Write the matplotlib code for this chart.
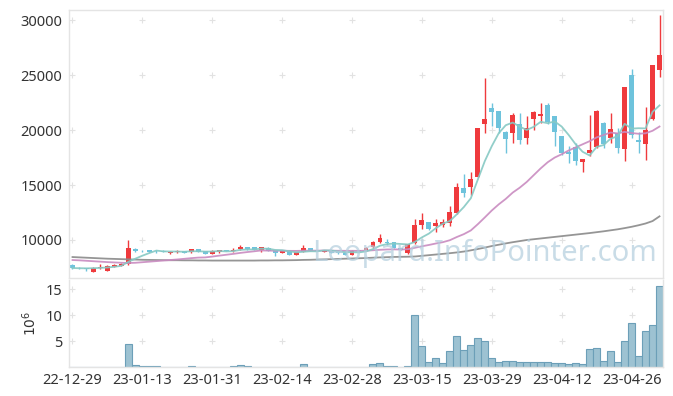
import numpy as np
import pandas as pd
import matplotlib
matplotlib.use("Agg")
import matplotlib.pyplot as plt

# OHLC values (one row per trading day)
opens = [7730, 7450, 7430, 7120, 7430, 7210, 7550, 7670, 7800, 9200,
         9020, 9090, 8990, 8960, 8800, 8930, 9000, 8880, 9180, 9000,
         8750, 8950, 9060, 9020, 9150, 9360, 9330, 9090, 9300, 9090,
         8850, 9030, 8640, 8940, 9270, 9050, 8910, 9090, 8990, 8850,
         8680, 9030, 9000, 9330, 9820, 9790, 9790, 9240, 8850, 9700,
         11360, 11610, 11300, 11360, 11520, 12480, 14760, 14850, 15760, 20520,
         22030, 21730, 19850, 19700, 20550, 19300, 21030, 21270, 22270, 21270,
         19450, 18030, 18480, 17120, 17880, 18480, 20610, 19240, 19750, 18300,
         24970, 19090, 18760, 21000, 25450]
highs = [7780, 7500, 7470, 7550, 7800, 7700, 7780, 7880, 10000, 9250,
         9100, 9100, 9100, 9050, 8960, 9050, 9030, 9200, 9200, 9020,
         9050, 9100, 9100, 9250, 9520, 9400, 9350, 9380, 9320, 9100,
         9080, 9050, 8900, 9520, 9300, 9100, 9120, 9110, 9020, 8870,
         9050, 9080, 9320, 9900, 10570, 10050, 9810, 9260, 9660, 11880,
         12430, 11650, 11880, 11900, 13090, 15210, 15970, 16210, 20200, 24700,
         22440, 21750, 19900, 21570, 21520, 21270, 21700, 22430, 22430, 21300,
         19500, 18540, 18790, 17400, 21330, 21800, 20700, 21520, 20150, 23880,
         25520, 19850, 22120, 25950, 30450]
lows = [7400, 7350, 7150, 7100, 7400, 7200, 7520, 7650, 7750, 8900,
        8900, 8930, 8850, 8880, 8700, 8850, 8830, 8860, 8930, 8750,
        8720, 8850, 8980, 8950, 9120, 9100, 9100, 8950, 9000, 8580,
        8820, 8620, 8600, 8900, 8960, 8980, 8880, 8830, 8770, 8650,
        8650, 8950, 8980, 9280, 9700, 9530, 9250, 9080, 8700, 9680,
        11000, 10900, 10760, 11150, 11300, 12400, 13940, 14090, 15700, 19750,
        20360, 19750, 17880, 18850, 18730, 18700, 20000, 20660, 20540, 18540,
        17730, 17030, 16820, 16210, 17640, 18400, 18340, 18850, 17940, 17210,
        19240, 17940, 17270, 20910, 24850]
closes = [7450, 7420, 7400, 7480, 7570, 7640, 7730, 7850, 9300, 9000,
          8980, 8950, 8960, 8940, 8940, 8960, 8860, 9180, 8950, 8770,
          9000, 9090, 9000, 9060, 9360, 9180, 9120, 9360, 9030, 8790,
          9060, 8640, 8880, 9270, 9030, 9020, 9090, 8850, 8800, 8680,
          9030, 9000, 9300, 9850, 10210, 9760, 9270, 9100, 9640, 11360,
          11820, 11000, 11580, 11670, 12580, 14850, 14300, 15580, 20150, 20970,
          21670, 20210, 19180, 21360, 19090, 20180, 21640, 21450, 20750, 19850,
          17880, 17820, 17210, 17340, 18180, 21730, 18730, 20090, 18390, 23880,
          19540, 18910, 20000, 25910, 26820]

# volume in millions of shares
volumes = [0.05, 0.05, 0.05, 0.05, 0.05, 0.05, 0.05, 0.05, 4.48, 0.42,
           0.25, 0.22, 0.2, 0.05, 0.05, 0.05, 0.05, 0.2, 0.05, 0.05,
           0.05, 0.05, 0.05, 0.15, 0.4, 0.2, 0.05, 0.05, 0.05, 0.05,
           0.05, 0.05, 0.05, 0.62, 0.05, 0.05, 0.05, 0.05, 0.05, 0.05,
           0.05, 0.05, 0.05, 0.55, 0.75, 0.1, 0.1, 0.03, 0.1, 10.1,
           4.1, 1.0, 1.7, 0.7, 3.1, 6.0, 3.3, 4.3, 5.6, 5.05,
           1.7, 1.0, 1.2, 1.2, 1.0, 1.0, 0.9, 1.0, 1.0, 0.85,
           0.85, 0.65, 0.85, 0.65, 3.5, 3.65, 1.2, 3.1, 1.0, 5.05,
           8.5, 2.15, 7.0, 8.15, 15.7]

# first 19 points of the 20-day average come from days before the window
ma20_head = [8180, 8150, 8110, 8070, 8030, 7990, 7960, 7930, 7910, 7930,
             7980, 8030, 8080, 8130, 8180, 8230, 8290, 8350, 8400]

# long moving average
ma_long = [8450, 8420, 8390, 8360, 8330, 8300, 8280, 8260, 8240, 8220,
           8200, 8190, 8180, 8170, 8160, 8160, 8150, 8150, 8140, 8140,
           8130, 8130, 8130, 8130, 8130, 8130, 8130, 8140, 8140, 8150,
           8150, 8160, 8170, 8190, 8200, 8220, 8240, 8260, 8280, 8300,
           8320, 8340, 8360, 8390, 8420, 8440, 8460, 8470, 8480, 8500,
           8560, 8620, 8680, 8740, 8800, 8870, 8950, 9060, 9180, 9310,
           9450, 9570, 9690, 9800, 9900, 10000, 10070, 10140, 10210, 10280,
           10350, 10420, 10490, 10560, 10630, 10710, 10790, 10880, 10970, 11080,
           11200, 11340, 11500, 11720, 12150]

tick_labels = ["22-12-29", "23-01-13", "23-01-31", "23-02-14", "23-02-28",
               "23-03-15", "23-03-29", "23-04-12", "23-04-26"]

df = pd.DataFrame({"open": opens, "high": highs, "low": lows, "close": closes,
                   "volume": volumes})
x = np.arange(len(df))
ma5 = df["close"].rolling(5, min_periods=1).mean()
ma20 = df["close"].rolling(20).mean()
ma20.iloc[:len(ma20_head)] = ma20_head

UP = "#ef3a3d"
DOWN = "#6ec3dc"
TEXT = "#333333"
FRAME = "#e4e4e4"

plt.rcParams["font.family"] = ["Noto Sans", "DejaVu Sans"]

fig = plt.figure(figsize=(6.73, 3.96), dpi=100)
W, H = 673, 396
ax = fig.add_axes([69 / W, 1 - 278 / H, 594 / W, 268 / H])
axv = fig.add_axes([69 / W, 1 - 367 / H, 594 / W, 87 / H], sharex=ax)

xticks = np.arange(0, 81, 10)
price_ticks = [10000, 15000, 20000, 25000, 30000]
vol_ticks = [5, 10, 15]

# grid drawn as small crosses
gx, gy = np.meshgrid(xticks, price_ticks)
ax.plot(gx.ravel(), gy.ravel(), "+", color="#e2e2e2", ms=4, mew=0.8, zorder=0)
gx, gy = np.meshgrid(xticks, vol_ticks)
axv.plot(gx.ravel(), gy.ravel(), "+", color="#e2e2e2", ms=4, mew=0.8, zorder=0)

# candles
up = df["close"] >= df["open"]
colors = np.where(up, UP, DOWN)
ax.vlines(x, df["low"], df["high"], colors=colors, lw=1.0, zorder=2)
body = np.maximum((df["close"] - df["open"]).abs(), 60)
bottom = np.minimum(df["open"], df["close"])
ax.bar(x, body, bottom=bottom, width=0.7, color=colors, lw=0, zorder=2)

# moving averages
ax.plot(x, ma_long, color="#8a8a8a", lw=1.3, alpha=0.9, zorder=3)
ax.plot(x, ma20, color="#c98bc0", lw=1.3, alpha=0.9, zorder=3)
ax.plot(x, ma5, color="#86c9c4", lw=1.3, alpha=0.9, zorder=3)

ax.text(0.70, 0.093, "Leopard.InfoPointer.com", transform=ax.transAxes,
        ha="center", va="center", fontsize=21, color="#b3cedd", alpha=0.7,
        zorder=4)

ax.set_xlim(-0.5, len(df) - 0.5)
ax.set_ylim(6545, 30910)
ax.set_yticks(price_ticks)
ax.tick_params(axis="y", length=0, pad=5, labelsize=10.5, labelcolor=TEXT)
ax.tick_params(axis="x", length=0, labelbottom=False)
for s in ax.spines.values():
    s.set_color(FRAME)
    s.set_linewidth(1)

# volume
axv.bar(x, df["volume"], width=1.0, color="#9dc2d2", edgecolor="#6c9fb8",
        lw=0.8, zorder=2)
axv.set_ylim(0, 16.8)
axv.set_yticks(vol_ticks)
axv.set_xticks(xticks)
axv.set_xticklabels(tick_labels)
axv.tick_params(axis="y", length=0, pad=5, labelsize=10.5, labelcolor=TEXT)
axv.tick_params(axis="x", length=0, pad=4, labelsize=10.5, labelcolor=TEXT)
axv.set_ylabel(r"$10^{6}$", fontsize=10, color=TEXT, labelpad=4)
for s in axv.spines.values():
    s.set_color(FRAME)
    s.set_linewidth(1)
axv.spines["top"].set_visible(False)

fig.savefig("out.png", dpi=100, facecolor="white")
